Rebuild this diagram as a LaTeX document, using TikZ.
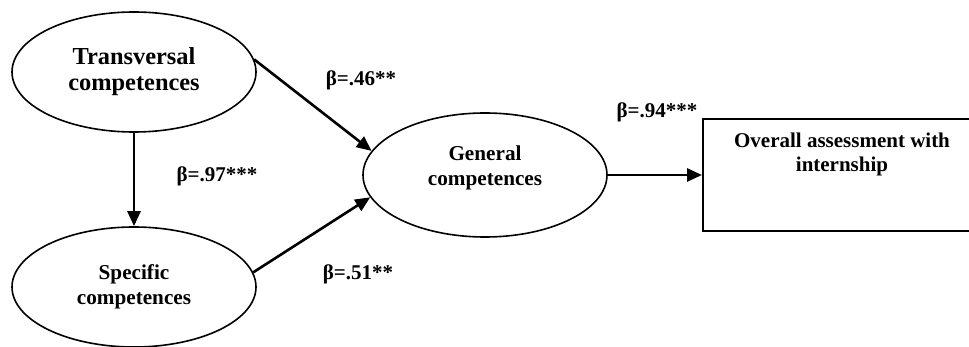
\documentclass[tikz,border=0pt]{standalone}
\usepackage{fontspec}
\setmainfont{Liberation Serif}
\usetikzlibrary{shapes.geometric, arrows.meta}

\begin{document}
\begin{tikzpicture}[
    x=0.5pt, y=-0.5pt,
    font=\fontsize{10.6}{12.5}\selectfont\bfseries,
    lat/.style={draw, ellipse, line width=0.8pt, align=center, inner sep=0pt, minimum width=122pt, minimum height=60pt},
    obs/.style={draw, rectangle, line width=1pt, inner sep=0pt, minimum width=139pt, minimum height=56pt, anchor=north west},
    coef/.style={inner sep=0pt, font=\fontsize{10.5}{12}\selectfont\bfseries},
    fl/.style={-{Triangle[length=7.5pt, width=6.5pt]}, line width=1.3pt}
]
\clip (0,0) rectangle (969,347);

% ===== LATENT CONSTRUCTS =====
\node[lat, font=\fontsize{12.2}{13}\selectfont\bfseries] (TRANS) at (134,72) {Transversal\\competences};
\node[lat] (SPEC) at (134,287) {Specific\\competences};
\node[lat, minimum height=62pt, label={[align=center, inner sep=0pt, yshift=3.5pt]center:{General\\competences}}] (GEN) at (485,175) {};

% ===== OUTCOME =====
\node[obs, label={[coef, align=center, anchor=north, yshift=-7.5pt]north:{Overall assessment with\\internship}}] (OUT) at (702,118) {};

% ===== PATHS =====
\draw[fl] (TRANS.south) -- (SPEC.north);
\draw[fl] (TRANS.6) -- (GEN.168);
\draw[fl] (SPEC.7) -- (GEN.191);
\draw[fl] (GEN.east) -- (OUT.west);

% path coefficients
\node[coef] (B46) at (361,80) {β=.46**};
\node[coef] (B97) at (217,176) {β=.97***};
\node[coef] (B51) at (358,274) {β=.51**};
\node[coef] (B94) at (657,112) {β=.94***};

\end{tikzpicture}
\end{document}
